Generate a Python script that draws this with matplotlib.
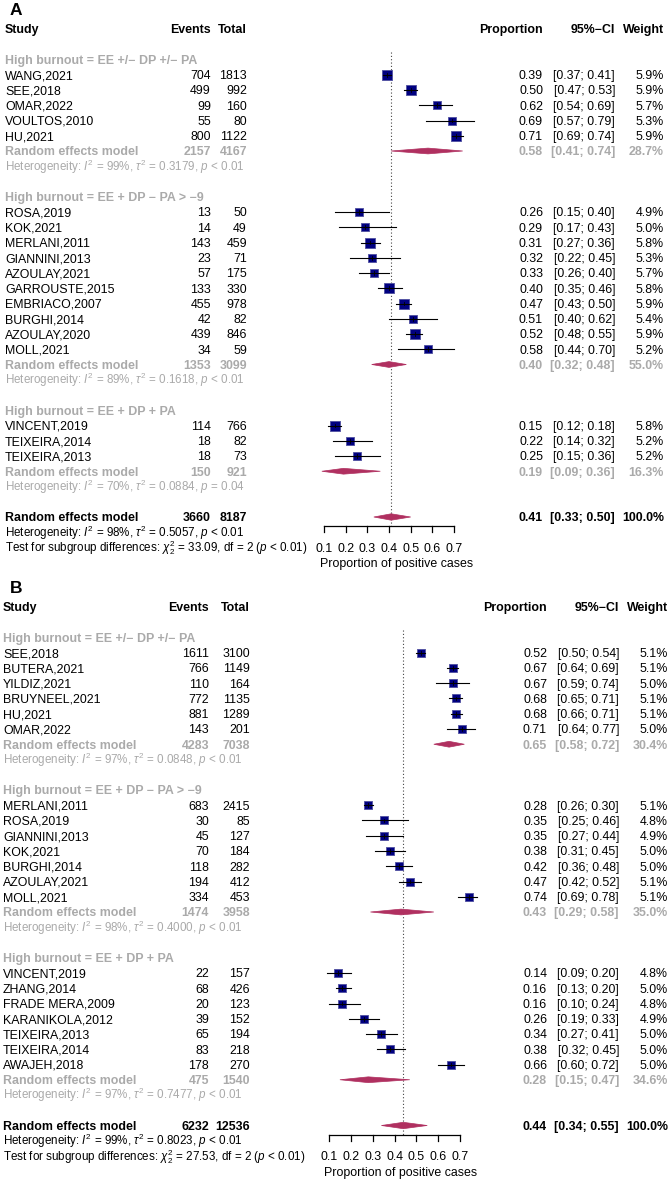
import numpy as np
import matplotlib
matplotlib.use("Agg")
import matplotlib.pyplot as plt
from matplotlib import transforms
from matplotlib.patches import Polygon

plt.rcParams['font.family'] = ['Liberation Sans', 'DejaVu Sans']
plt.rcParams['mathtext.fontset'] = 'custom'
plt.rcParams['mathtext.rm'] = 'Liberation Sans'
plt.rcParams['mathtext.it'] = 'Liberation Sans:italic'
plt.rcParams['mathtext.bf'] = 'Liberation Sans:bold'

W, H = 670, 1181
ROW = 15.25
FS = 8.9
FS_SMALL = 8.4
GREY = '#aaaaaa'
NAVY = '#000080'
DIAM = '#b03060'

ticks = [0.1, 0.2, 0.3, 0.4, 0.5, 0.6, 0.7]
tick_labels = ["0.1", "0.2", "0.3", "0.4", "0.5", "0.6", "0.7"]

groups = ["High burnout = EE +/\u2212 DP +/\u2212 PA",
          "High burnout = EE + DP \u2212 PA > \u22129",
          "High burnout = EE + DP + PA"]

# ---------------- panel A ----------------
a_study = [["WANG,2021", "SEE,2018", "OMAR,2022", "VOULTOS,2010", "HU,2021"],
           ["ROSA,2019", "KOK,2021", "MERLANI,2011", "GIANNINI,2013", "AZOULAY,2021",
            "GARROUSTE,2015", "EMBRIACO,2007", "BURGHI,2014", "AZOULAY,2020", "MOLL,2021"],
           ["VINCENT,2019", "TEIXEIRA,2014", "TEIXEIRA,2013"]]
a_events = [[704, 499, 99, 55, 800],
            [13, 14, 143, 23, 57, 133, 455, 42, 439, 34],
            [114, 18, 18]]
a_total = [[1813, 992, 160, 80, 1122],
           [50, 49, 459, 71, 175, 330, 978, 82, 846, 59],
           [766, 82, 73]]
a_prop = [[0.39, 0.50, 0.62, 0.69, 0.71],
          [0.26, 0.29, 0.31, 0.32, 0.33, 0.40, 0.47, 0.51, 0.52, 0.58],
          [0.15, 0.22, 0.25]]
a_lo = [[0.37, 0.47, 0.54, 0.57, 0.69],
        [0.15, 0.17, 0.27, 0.22, 0.26, 0.35, 0.43, 0.40, 0.48, 0.44],
        [0.12, 0.14, 0.15]]
a_hi = [[0.41, 0.53, 0.69, 0.79, 0.74],
        [0.40, 0.43, 0.36, 0.45, 0.40, 0.46, 0.50, 0.62, 0.55, 0.70],
        [0.18, 0.32, 0.36]]
a_weight = [[5.9, 5.9, 5.7, 5.3, 5.9],
            [4.9, 5.0, 5.8, 5.3, 5.7, 5.8, 5.9, 5.4, 5.9, 5.2],
            [5.8, 5.2, 5.2]]
a_sub_events = [2157, 1353, 150]
a_sub_total = [4167, 3099, 921]
a_sub_prop = [0.58, 0.40, 0.19]
a_sub_lo = [0.41, 0.32, 0.09]
a_sub_hi = [0.74, 0.48, 0.36]
a_sub_weight = [28.7, 55.0, 16.3]
a_sub_het = ["Heterogeneity: $I^2$ = 99%, $\\tau^2$ = 0.3179, $p$ < 0.01",
             "Heterogeneity: $I^2$ = 89%, $\\tau^2$ = 0.1618, $p$ < 0.01",
             "Heterogeneity: $I^2$ = 70%, $\\tau^2$ = 0.0884, $p$ = 0.04"]
a_all = [3660, 8187, 0.41, 0.33, 0.50, 100.0]
a_all_het = "Heterogeneity: $I^2$ = 98%, $\\tau^2$ = 0.5057, $p$ < 0.01"
a_test = "Test for subgroup differences: $\\chi^2_2$ = 33.09, df = 2 ($p$ < 0.01)"

# ---------------- panel B ----------------
b_study = [["SEE,2018", "BUTERA,2021", "YILDIZ,2021", "BRUYNEEL,2021", "HU,2021", "OMAR,2022"],
           ["MERLANI,2011", "ROSA,2019", "GIANNINI,2013", "KOK,2021", "BURGHI,2014",
            "AZOULAY,2021", "MOLL,2021"],
           ["VINCENT,2019", "ZHANG,2014", "FRADE MERA,2009", "KARANIKOLA,2012",
            "TEIXEIRA,2013", "TEIXEIRA,2014", "AWAJEH,2018"]]
b_events = [[1611, 766, 110, 772, 881, 143],
            [683, 30, 45, 70, 118, 194, 334],
            [22, 68, 20, 39, 65, 83, 178]]
b_total = [[3100, 1149, 164, 1135, 1289, 201],
           [2415, 85, 127, 184, 282, 412, 453],
           [157, 426, 123, 152, 194, 218, 270]]
b_prop = [[0.52, 0.67, 0.67, 0.68, 0.68, 0.71],
          [0.28, 0.35, 0.35, 0.38, 0.42, 0.47, 0.74],
          [0.14, 0.16, 0.16, 0.26, 0.34, 0.38, 0.66]]
b_lo = [[0.50, 0.64, 0.59, 0.65, 0.66, 0.64],
        [0.26, 0.25, 0.27, 0.31, 0.36, 0.42, 0.69],
        [0.09, 0.13, 0.10, 0.19, 0.27, 0.32, 0.60]]
b_hi = [[0.54, 0.69, 0.74, 0.71, 0.71, 0.77],
        [0.30, 0.46, 0.44, 0.45, 0.48, 0.52, 0.78],
        [0.20, 0.20, 0.24, 0.33, 0.41, 0.45, 0.72]]
b_weight = [[5.1, 5.1, 5.0, 5.1, 5.1, 5.0],
            [5.1, 4.8, 4.9, 5.0, 5.0, 5.1, 5.1],
            [4.8, 5.0, 4.8, 4.9, 5.0, 5.0, 5.0]]
b_sub_events = [4283, 1474, 475]
b_sub_total = [7038, 3958, 1540]
b_sub_prop = [0.65, 0.43, 0.28]
b_sub_lo = [0.58, 0.29, 0.15]
b_sub_hi = [0.72, 0.58, 0.47]
b_sub_weight = [30.4, 35.0, 34.6]
b_sub_het = ["Heterogeneity: $I^2$ = 97%, $\\tau^2$ = 0.0848, $p$ < 0.01",
             "Heterogeneity: $I^2$ = 98%, $\\tau^2$ = 0.4000, $p$ < 0.01",
             "Heterogeneity: $I^2$ = 97%, $\\tau^2$ = 0.7477, $p$ < 0.01"]
b_all = [6232, 12536, 0.44, 0.34, 0.55, 100.0]
b_all_het = "Heterogeneity: $I^2$ = 99%, $\\tau^2$ = 0.8023, $p$ < 0.01"
b_test = "Test for subgroup differences: $\\chi^2_2$ = 27.53, df = 2 ($p$ < 0.01)"

fig = plt.figure(figsize=(W / 100, H / 100), dpi=100)


def diamond(ax, p, lo, hi, k, hh):
    ax.add_patch(Polygon([(lo, k), (p, k - hh), (hi, k), (p, k + hh)],
                         closed=True, facecolor=DIAM, edgecolor=DIAM, lw=0.5, zorder=3))


def forest(letter, top, bottom, row0, x01, x07, cols, study, events, total, prop, lo, hi,
           weight, s_ev, s_tot, s_p, s_lo, s_hi, s_w, s_het, overall, all_het, test, xlab_x):
    ax = fig.add_axes([0, (H - bottom) / H, 1, (bottom - top) / H])
    ax.axis('off')
    scale = (x07 - x01) / 0.6
    ax.set_xlim(0.1 - x01 / scale, 0.1 + (W - x01) / scale)
    ax.set_ylim((bottom - row0) / ROW, (top - row0) / ROW)
    tr = transforms.blended_transform_factory(fig.transFigure, ax.transData)
    name_x, ev_x, tot_x, p_x, ci_x, w_x = cols

    def txt(x, k, s, ha='right', color='black', weight='normal', size=FS):
        ax.text(x / W, k + 0.29, s, transform=tr, ha=ha, va='baseline',
                fontsize=size, color=color, fontweight=weight)

    def row_text(k, name, ev, tot, p, l, h, w, color='black', weight='normal'):
        txt(name_x, k, name, ha='left', color=color, weight=weight)
        txt(ev_x, k, str(ev), color=color, weight=weight)
        txt(tot_x, k, str(tot), color=color, weight=weight)
        txt(p_x, k, f"{p:.2f}", color=color, weight=weight)
        txt(ci_x, k, f"[{l:.2f}; {h:.2f}]", color=color, weight=weight)
        txt(w_x, k, f"{w:.1f}%", color=color, weight=weight)

    ax.text(10 / W, -0.95, letter, transform=tr,
            ha='left', va='baseline', fontsize=12.5, fontweight='bold')
    txt(name_x, 0, "Study", ha='left', weight='bold')
    txt(ev_x, 0, "Events", weight='bold')
    txt(tot_x, 0, "Total", weight='bold')
    txt(p_x, 0, "Proportion", weight='bold')
    txt(ci_x, 0, "95%\u2212CI", weight='bold')
    txt(w_x, 0, "Weight", weight='bold')

    k = 2
    for g in range(len(groups)):
        txt(name_x, k, groups[g], ha='left', color=GREY, weight='bold')
        k += 1
        for i in range(len(study[g])):
            row_text(k, study[g][i], events[g][i], total[g][i], prop[g][i],
                     lo[g][i], hi[g][i], weight[g][i])
            side = 9.3 * weight[g][i] / 5.9 * 0.72
            ax.scatter(prop[g][i], k, marker='s', s=side ** 2, color=NAVY,
                       edgecolor='#5050a0', linewidth=0.6, zorder=2)
            ax.plot([lo[g][i], hi[g][i]], [k, k], color='black', lw=0.8, zorder=3)
            ax.plot([prop[g][i]] * 2, [k - 0.12, k + 0.12], color='black', lw=0.6, zorder=3)
            k += 1
        row_text(k, "Random effects model", s_ev[g], s_tot[g], s_p[g], s_lo[g], s_hi[g],
                 s_w[g], color=GREY, weight='bold')
        diamond(ax, s_p[g], s_lo[g], s_hi[g], k, 0.19)
        k += 1
        txt(name_x, k, s_het[g], ha='left', color=GREY, size=FS_SMALL)
        k += 2

    ev, tot, p, l, h, w = overall
    row_text(k, "Random effects model", ev, tot, p, l, h, w, weight='bold')
    diamond(ax, p, l, h, k, 0.21)
    txt(name_x, k + 1, all_het, ha='left', size=FS_SMALL)
    txt(name_x, k + 2, test, ha='left', size=FS_SMALL)

    ya = k + 0.6
    ax.plot([p, p], [1.5, ya], color='#444444', lw=0.8, ls=(0, (1, 2)), zorder=1)
    ax.plot([ticks[0], ticks[-1]], [ya, ya], color='black', lw=0.9)
    for t, lab in zip(ticks, tick_labels):
        ax.plot([t, t], [ya, ya + 0.4], color='black', lw=0.9)
        ax.text(t, k + 2 + 0.29, lab, ha='center', va='baseline', fontsize=FS)
    ax.text(xlab_x / W, k + 3 + 0.29, "Proportion of positive cases", transform=tr,
            ha='center', va='baseline', fontsize=FS)


forest("A", 0, 582, 29, 324, 454, (5, 211, 247, 543, 615, 664),
       a_study, a_events, a_total, a_prop, a_lo, a_hi, a_weight,
       a_sub_events, a_sub_total, a_sub_prop, a_sub_lo, a_sub_hi, a_sub_weight, a_sub_het,
       a_all, a_all_het, a_test, 397)
forest("B", 582, H, 607, 329, 460, (3, 209, 250, 547, 619, 668),
       b_study, b_events, b_total, b_prop, b_lo, b_hi, b_weight,
       b_sub_events, b_sub_total, b_sub_prop, b_sub_lo, b_sub_hi, b_sub_weight, b_sub_het,
       b_all, b_all_het, b_test, 401)

fig.savefig("out.png", dpi=100)
